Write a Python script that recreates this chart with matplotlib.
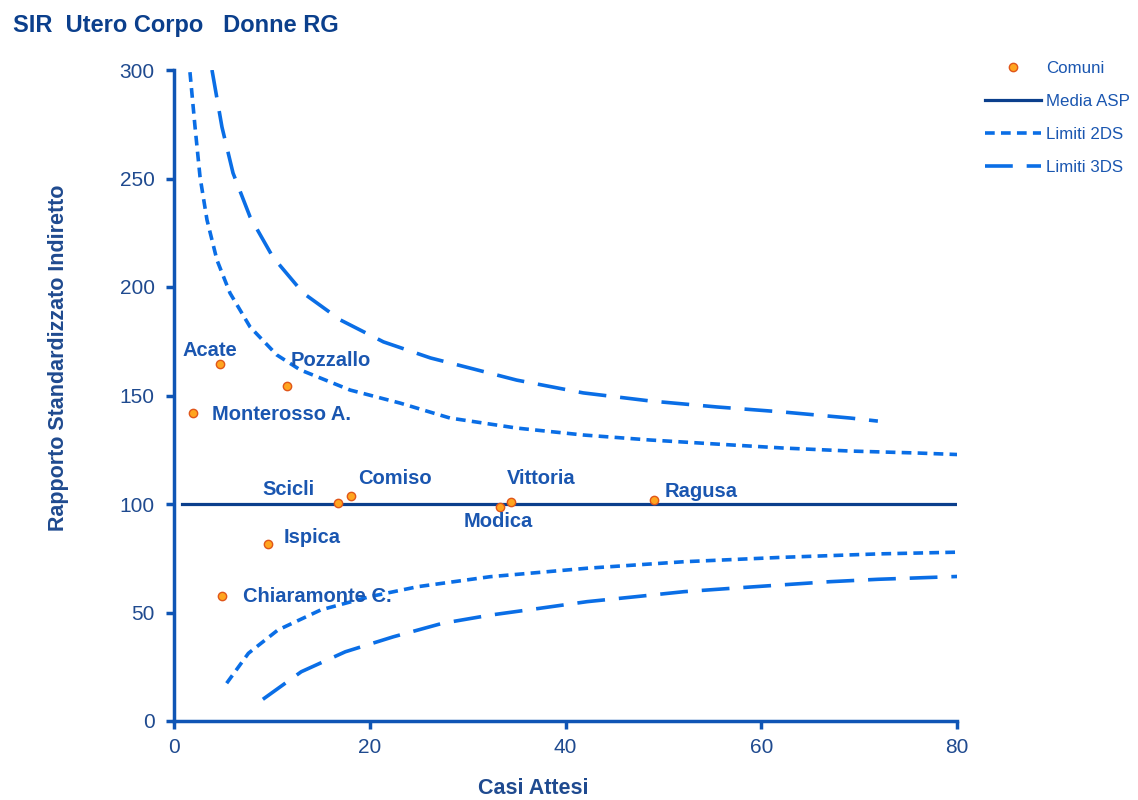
import matplotlib
matplotlib.use('Agg')
import matplotlib.pyplot as plt

plt.rcParams['font.family'] = ['Liberation Sans', 'DejaVu Sans']
plt.rcParams['lines.scale_dashes'] = False

# Comuni: casi attesi vs SIR
comuni = ['Acate', 'Pozzallo', 'Monterosso A.', 'Scicli', 'Comiso', 'Ispica',
          'Chiaramonte C.', 'Modica', 'Vittoria', 'Ragusa']
attesi = [4.7, 11.5, 1.9, 16.75, 18.1, 9.6, 4.9, 33.3, 34.4, 49.0]
sir = [164.5, 154.4, 141.9, 100.5, 103.7, 81.6, 57.6, 98.6, 100.9, 101.8]

# media ASP
media_x = [0.8, 80]
media_y = [100, 100]

# limiti 2DS
sup2_x = [1.63, 2.15, 2.66, 3.37, 4.39, 5.72, 7.77, 10.5, 12.9, 18.0, 23.1, 28.2,
          35.0, 41.8, 48.6, 55.5, 62.2, 69.1, 75.9, 80.0]
sup2_y = [299, 273.7, 250.7, 230.9, 212.4, 197.2, 181.6, 168.7, 161.8, 152.5, 146.5,
          139.6, 135.0, 131.8, 129.5, 127.6, 125.8, 124.4, 123.5, 122.8]
inf2_x = [5.38, 7.6, 10.6, 15.0, 20.0, 24.9, 32.3, 42.2, 52.1, 62.0, 71.9, 80.0]
inf2_y = [17.4, 31.2, 41.9, 51.2, 57.3, 61.9, 66.5, 70.4, 73.4, 75.4, 77.0, 77.8]

# limiti 3DS
sup3_x = [3.88, 4.9, 6.03, 7.77, 10.1, 13.2, 17.0, 21.4, 26.2, 28.2, 35.0, 41.8,
          48.6, 55.5, 62.2, 69.1, 71.9]
sup3_y = [300, 273.7, 252.5, 232.3, 213.8, 197.2, 184.8, 174.7, 167.3, 165.0, 157.1,
          151.2, 147.5, 144.7, 142.4, 139.6, 138.2]
inf3_x = [9.08, 13.0, 17.5, 22.4, 27.4, 32.3, 37.3, 42.2, 47.2, 52.1, 57.1, 62.0,
          67.0, 71.9, 80.0]
inf3_y = [10.0, 22.7, 31.9, 38.8, 45.0, 48.8, 51.9, 55.0, 57.3, 59.6, 61.2, 62.7,
          64.2, 65.3, 66.6]

# offset delle etichette (pixel) e allineamento
label_off = [(-10, 14, 'center'), (4, 25, 'left'), (19, -1, 'left'), (-23, 13, 'right'),
             (7, 17, 'left'), (16, 6, 'left'), (21, 0, 'left'), (-2, -14, 'center'),
             (-4, 24, 'left'), (11, 9, 'left')]

navy = '#0b3f8c'
blue = '#0a6ee6'
axis_blue = '#0f55b5'
text_blue = '#1a56b0'
label_blue = '#1f4a8f'

fig = plt.figure(figsize=(11.38, 8), dpi=100)
ax = fig.add_axes([0.1529, 0.09875, 0.8411 - 0.1529, 0.9125 - 0.09875])

ax.plot(media_x, media_y, color=navy, lw=2.3, label='Media ASP', zorder=3)
ax.plot(sup2_x, sup2_y, color=blue, lw=2.6, dashes=(7, 4.5), label='Limiti 2DS')
ax.plot(inf2_x, inf2_y, color=blue, lw=2.6, dashes=(7, 4.5))
ax.plot(sup3_x, sup3_y, color=blue, lw=2.6, dashes=(20, 10), label='Limiti 3DS')
ax.plot(inf3_x, inf3_y, color=blue, lw=2.6, dashes=(20, 10))
ax.plot(attesi, sir, 'o', ms=6, mfc='#ffa51f', mec='#e0561a', mew=1,
        label='Comuni', zorder=4)

for name, x, y, (dx, dy, ha) in zip(comuni, attesi, sir, label_off):
    ax.annotate(name, (x, y), xytext=(dx, dy), textcoords='offset pixels',
                ha=ha, va='center', fontsize=14.5, fontweight='bold', color=text_blue,
                zorder=5)

ax.set_xlim(0, 80)
ax.set_ylim(0, 300)
ax.set_xticks([0, 20, 40, 60, 80])
ax.set_yticks([0, 50, 100, 150, 200, 250, 300])

for side in ['top', 'right']:
    ax.spines[side].set_visible(False)
for side in ['left', 'bottom']:
    ax.spines[side].set_color(axis_blue)
    ax.spines[side].set_linewidth(2.5)
ax.tick_params(colors=axis_blue, width=2.5, length=6, labelsize=15,
               labelcolor=label_blue)
ax.tick_params(axis='y', pad=8)
ax.tick_params(axis='x', pad=6)

ax.set_xlabel('Casi Attesi', fontsize=15.5, fontweight='bold', color=label_blue, va='center')
ax.xaxis.set_label_coords(0.4585, -0.103)
ax.set_ylabel('Rapporto Standardizzato Indiretto', fontsize=15.5, fontweight='bold',
              color=label_blue, va='center')
ax.yaxis.set_label_coords(-0.147, 0.5576)

fig.text(0.011, 0.968, 'SIR  Utero Corpo   Donne RG', fontsize=17, fontweight='bold',
         color=navy, va='center', ha='left')

handles, labels = ax.get_legend_handles_labels()
order = [3, 0, 1, 2]
leg = fig.legend([handles[i] for i in order], [labels[i] for i in order],
                 loc='upper left', bbox_to_anchor=(0.860, 0.932), frameon=False,
                 fontsize=12.2, handlelength=3.3, handletextpad=0.3,
                 labelspacing=1.06, borderaxespad=0)
for t in leg.get_texts():
    t.set_color(text_blue)

fig.savefig('out.png', dpi=100)
